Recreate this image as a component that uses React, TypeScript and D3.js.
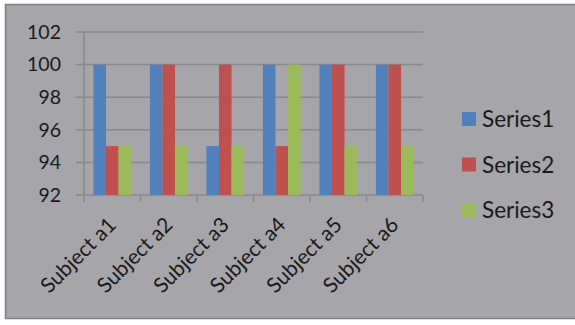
import React from "react";
import * as d3 from "d3";

const categories = ["Subject a1", "Subject a2", "Subject a3", "Subject a4", "Subject a5", "Subject a6"];
const seriesNames = ["Series1", "Series2", "Series3"];
const series1 = [100, 100, 95, 100, 100, 100];
const series2 = [95, 100, 100, 95, 100, 100];
const series3 = [95, 95, 95, 100, 95, 95];
const yTicks = [92, 94, 96, 98, 100, 102];

const colors = ["#4f81bd", "#c0504d", "#9bbb59"];

const App = () => {
  const W = 575;
  const H = 325;
  const left = 84;
  const right = 423;
  const top = 32;
  const bottom = 195;
  const font = "Lato, 'Open Sans', sans-serif";

  const allSeries = [series1, series2, series3];

  const x0 = d3.scaleBand().domain(categories).range([left, right]).paddingInner(0).paddingOuter(0);
  // excel gap width 150%: group = 3 bars + 1.5 bar
  const barW = x0.bandwidth() / 4.5;
  const groupOffset = barW * 0.75;
  const y = d3.scaleLinear().domain([92, 102]).range([bottom, top]);

  return (
    <div style={{ position: "absolute", left: 0, top: 0 }}>
      <svg width={W} height={H} style={{ display: "block" }}>
        <rect x={0} y={0} width={W} height={H} fill="#ffffff" />
        <rect x={5.5} y={4.5} width={W} height={314} fill="#a5a5aa" stroke="#7f7f7f" strokeWidth={1.5} />

        {/* grid lines */}
        {yTicks.map((t) => (
          <g key={t}>
            <line x1={left - 8} x2={right} y1={y(t)} y2={y(t)} stroke="#8a8a8c" strokeWidth={1.5} />
            <text
              x={61}
              y={y(t)}
              dy="0.35em"
              textAnchor="end"
              fontFamily={font}
              fontSize={19.5}
              fill="#1a1a1a"
            >
              {t}
            </text>
          </g>
        ))}

        {/* y axis */}
        <line x1={left} x2={left} y1={top} y2={bottom + 7} stroke="#8a8a8c" strokeWidth={1.5} />

        {/* category ticks */}
        {categories.map((c) => (
          <line
            key={c}
            x1={(x0(c) as number) + x0.bandwidth()}
            x2={(x0(c) as number) + x0.bandwidth()}
            y1={bottom}
            y2={bottom + 7}
            stroke="#8a8a8c"
            strokeWidth={1.5}
          />
        ))}

        {/* bars */}
        {categories.map((c, i) => (
          <g key={c}>
            {allSeries.map((s, j) => (
              <rect
                key={j}
                x={(x0(c) as number) + groupOffset + j * barW}
                y={y(s[i])}
                width={barW}
                height={bottom - y(s[i])}
                fill={colors[j]}
              />
            ))}
          </g>
        ))}

        {/* x labels */}
        {categories.map((c) => {
          const cx = (x0(c) as number) + x0.bandwidth() / 2;
          const cy = bottom + 26;
          return (
            <text
              key={c}
              transform={`translate(${cx},${cy}) rotate(-45)`}
              textAnchor="end"
              dy="0.35em"
              fontFamily={font}
              fontSize={21}
              fill="#1a1a1a"
            >
              {c}
            </text>
          );
        })}

        {/* legend */}
        {seriesNames.map((n, i) => (
          <g key={n} transform={`translate(462,${112 + i * 45.5})`}>
            <rect x={0} y={0} width={14} height={14} fill={colors[i]} />
            <text x={20} y={7} dy="0.36em" fontFamily={font} fontSize={22.5} fill="#1a1a1a">
              {n}
            </text>
          </g>
        ))}
      </svg>
    </div>
  );
};

export default App;
